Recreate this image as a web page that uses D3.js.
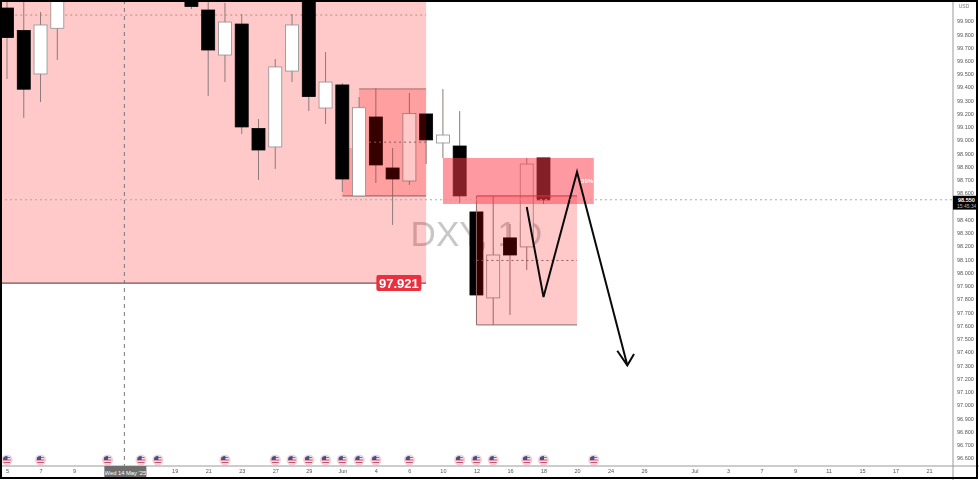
<!DOCTYPE html>
<html><head><meta charset="utf-8">
<script src="https://cdn.jsdelivr.net/npm/d3@7"></script>
<style>html,body{margin:0;padding:0;background:#fff;overflow:hidden}svg{display:block;filter:blur(.45px)}text{font-family:"Liberation Sans",Arial,sans-serif}</style>
</head><body><div id="c"></div>
<script>
const barIndex=[0,1,2,3,11,12,13,14,15,16,17,18,19,20,21,22,23,24,25,26,27,28,29,30,31,32];
const opens =[99.998,99.828,99.500,99.845,100.10,99.983,99.643,99.877,99.088,98.949,99.522,100.20,99.243,99.417,98.579,99.175,98.790,98.692,99.198,98.979,98.956,98.458,97.809,98.262,98.194,98.866];
const closes=[99.775,99.385,99.870,100.10,100.01,99.681,99.892,99.100,98.926,99.553,99.870,99.330,99.439,98.707,99.245,98.813,98.707,99.202,99.002,99.039,98.579,97.831,98.133,98.133,98.820,98.549];
const highs =[100.20,100.20,99.968,100.20,100.15,100.10,100.036,99.953,99.160,99.613,99.953,100.30,99.666,99.430,99.326,99.394,98.941,99.356,99.198,99.387,99.220,98.470,98.579,98.367,98.866,98.866];
const lows  =[99.462,99.168,99.288,99.606,99.990,99.334,99.439,99.047,98.700,98.783,99.439,99.220,99.122,98.609,98.579,98.677,98.360,98.662,98.820,98.866,98.526,97.820,97.605,97.680,98.020,98.518];
const priceTicks=[99.9,99.8,99.7,99.6,99.5,99.4,99.3,99.2,99.1,99.0,98.9,98.8,98.7,98.6,98.4,98.3,98.2,98.1,98.0,97.9,97.8,97.7,97.6,97.5,97.4,97.3,97.2,97.1,97.0,96.9,96.8,96.7,96.6];
const dateTickIndex=[0,2,4,10,12,14,16,18,20,22,24,26,28,30,32,34,36,38,41,43,45,47,49,51,53,55];
const dateTickLabels=["5","7","9","19","21","23","27","29","Jun","4","6","10","12","16","18","20","24","26","Jul","3","7","9","11","15","17","21"];
const eventIndex=[0,2,6,8,9,13,16,17,18,19,20,21,22,24,27,28,29,31,32,35];
const crosshairIndex=7, crosshairPrice=98.55;
const baseZone={start:-1,end:25,top:101,bottom:97.921,mid:99.945};
const innerZone={start:21,end:25,top:99.387,bottom:98.579,mid:98.985};
const innerZoneLeft={start:20,end:21,top:98.941,bottom:98.579};
const redZone={start:26,end:35,top:98.866,bottom:98.518};
const lowerZone={start:28,end:34,top:98.579,bottom:97.605,mid:98.092};
const pathBar=[31,32,34,37];
const pathPrice=[98.495,97.816,98.760,97.300];
const headBar=[36.4,37,37.4];
const headPrice=[97.410,97.300,97.385];
const frontBars=[20,21];
const levelLabel="97.921", priceLabel="98.550", timeLabel="15:45:34", dateLabel="Wed 14 May '25", watermark="DXY, 1D", unitLabel="USD";

const W=979,H=480,axisX=953,axisY=466;
const svg=d3.select("#c").append("svg").attr("width",W).attr("height",H);
const x=d3.scaleLinear().domain([0,32]).range([7,543.5]);
const y=d3.scaleLinear().domain([96.6,99.9]).range([458,21]);
const defs=svg.append("defs");
defs.append("clipPath").attr("id","plot").append("rect").attr("width",axisX).attr("height",axisY);
defs.append("clipPath").attr("id","flag").append("circle").attr("r",4);
const g=svg.append("g").attr("clip-path","url(#plot)");

g.append("text").attr("x",x(28)).attr("y",y(98.2)).attr("text-anchor","middle").attr("font-size",35).attr("fill","#c9c6c6").text(watermark);

function zone(z,fill){
  g.append("rect").attr("x",x(z.start)).attr("width",x(z.end)-x(z.start)).attr("y",y(z.top)).attr("height",y(z.bottom)-y(z.top)).attr("fill",fill);
}
function hline(z,p,stroke,dash,w){
  const l=g.append("line").attr("x1",x(z.start)).attr("x2",x(z.end)).attr("y1",y(p)).attr("y2",y(p)).attr("stroke",stroke).attr("stroke-width",w||1);
  if(dash) l.attr("stroke-dasharray",dash);
}
const PINK="rgba(255,0,0,.21)";
zone(baseZone,PINK);
hline(baseZone,baseZone.bottom,"#7a5050",null,1.2);
hline(baseZone,baseZone.mid,"#c08484","2 3");

const candles=barIndex.map((b,i)=>({b,o:opens[i],c:closes[i],h:highs[i],l:lows[i]}));
function draw(list){
  const s=g.append("g").selectAll("g").data(list).join("g");
  s.append("line").attr("x1",d=>x(d.b)).attr("x2",d=>x(d.b)).attr("y1",d=>y(d.h)).attr("y2",d=>y(d.l)).attr("stroke","#8c7a7a").attr("stroke-width",1);
  s.append("rect").attr("x",d=>x(d.b)-6.5).attr("width",13)
    .attr("y",d=>y(Math.max(d.o,d.c))).attr("height",d=>Math.abs(y(d.o)-y(d.c)))
    .attr("fill",d=>d.c<d.o?"#000":"#fff").attr("stroke",d=>d.c<d.o?"#000":"#8f8f8f").attr("stroke-width",.8);
}
draw(candles.filter(d=>!frontBars.includes(d.b)));
zone(innerZone,PINK);
zone(innerZoneLeft,PINK);
hline(innerZone,innerZone.top,"#a86a6a",null,1);
hline({start:20,end:25},innerZone.bottom,"#8a5a5a",null,1);
hline(innerZone,innerZone.mid,"#8a5a5a","2 3");
draw(candles.filter(d=>frontBars.includes(d.b)));

zone(lowerZone,PINK);
hline(lowerZone,lowerZone.top,"#8a3a3a",null,1);
hline(lowerZone,lowerZone.bottom,"#8a6a6a",null,1);
hline(lowerZone,lowerZone.mid,"#8a5a5a","2 3");
g.append("line").attr("x1",x(28)).attr("x2",x(28)).attr("y1",y(lowerZone.top)).attr("y2",y(lowerZone.bottom)).attr("stroke","#8a6a6a");
zone(redZone,"rgba(255,60,75,.52)");
g.append("text").attr("x",x(34.6)).attr("y",y(98.69)+2).attr("text-anchor","middle").attr("font-size",6).attr("font-weight","bold").attr("fill","#fff").text("50%");

const lineGen=d3.line().x(d=>x(d[0])).y(d=>y(d[1]));
const black={fill:"none",stroke:"#0a0a0a","stroke-width":2,"stroke-linejoin":"miter"};
[d3.zip(pathBar,pathPrice),d3.zip(headBar,headPrice)].forEach(pts=>{
  const p=g.append("path").attr("d",lineGen(pts));
  Object.entries(black).forEach(([k,v])=>p.attr(k,v));
});

g.append("line").attr("x1",x(crosshairIndex)).attr("x2",x(crosshairIndex)).attr("y1",0).attr("y2",axisY).attr("stroke","#777").attr("stroke-dasharray","4 4");
g.append("line").attr("x1",0).attr("x2",axisX).attr("y1",y(crosshairPrice)).attr("y2",y(crosshairPrice)).attr("stroke","#aaa").attr("stroke-dasharray","2 3");

const lab=g.append("g").attr("transform",`translate(${x(24)-33},${y(baseZone.bottom)})`);
lab.append("rect").attr("y",-8).attr("width",45).attr("height",16).attr("rx",2).attr("fill","#e8303f");
lab.append("text").attr("x",22.5).attr("y",4.5).attr("text-anchor","middle").attr("font-size",13).attr("font-weight","bold").attr("fill","#fff").text(levelLabel);

const ev=g.append("g").selectAll("g").data(eventIndex).join("g").attr("transform",d=>`translate(${x(d)},460)`);
ev.append("circle").attr("r",5.6).attr("fill","#f6cfd6");
const fl=ev.append("g").attr("clip-path","url(#flag)");
fl.append("rect").attr("x",-4).attr("y",-4).attr("width",8).attr("height",8).attr("fill","#e9e4ee");
[-2.5,0,2.5].forEach(v=>fl.append("rect").attr("x",-4).attr("y",v-.5).attr("width",8).attr("height",1).attr("fill","#c8506a"));
fl.append("rect").attr("x",-4).attr("y",-4).attr("width",4.5).attr("height",4).attr("fill","#4a4f86");

svg.append("rect").attr("x",axisX).attr("width",W-axisX).attr("height",H).attr("fill","#fff");
svg.append("rect").attr("y",axisY).attr("width",W).attr("height",H-axisY).attr("fill","#fff");

const yAxis=svg.append("g").attr("transform",`translate(${axisX},0)`).call(d3.axisRight(y).tickValues(priceTicks).tickSize(0).tickPadding(4).tickFormat(d3.format(".3f")));
yAxis.select(".domain").remove();
yAxis.selectAll("text").attr("font-size",5.5).attr("fill","#555").style("font-family",'"Liberation Sans",Arial,sans-serif');
const xs=d=>dateTickLabels[dateTickIndex.indexOf(d)];
const xAxis=svg.append("g").attr("transform",`translate(0,${axisY})`).call(d3.axisBottom(x).tickValues(dateTickIndex).tickSize(0).tickPadding(3).tickFormat(xs));
xAxis.select(".domain").remove();
xAxis.selectAll("text").attr("font-size",5.5).attr("fill","#555").style("font-family",'"Liberation Sans",Arial,sans-serif');

svg.append("text").attr("x",axisX+11).attr("y",8).attr("text-anchor","middle").attr("font-size",5).attr("fill","#777").text(unitLabel);
svg.append("line").attr("x1",axisX).attr("x2",axisX).attr("y1",0).attr("y2",H).attr("stroke","#9a9a9a").attr("stroke-width",1);
svg.append("line").attr("x1",0).attr("x2",W).attr("y1",axisY).attr("y2",axisY).attr("stroke","#9a9a9a").attr("stroke-width",1);

const pl=svg.append("g").attr("transform",`translate(${axisX},${y(crosshairPrice)-4})`);
pl.append("rect").attr("width",24).attr("height",14).attr("fill","#000");
pl.append("text").attr("x",5).attr("y",6).attr("font-size",5.5).attr("font-weight","bold").attr("fill","#fff").text(priceLabel);
pl.append("text").attr("x",4).attr("y",12).attr("font-size",5).attr("fill","#bbb").text(timeLabel);

const dl=svg.append("g").attr("transform",`translate(${x(crosshairIndex)-20},${axisY})`);
dl.append("rect").attr("width",42).attr("height",12).attr("fill","#6e6e6e");
dl.append("text").attr("x",21).attr("y",8.5).attr("text-anchor","middle").attr("font-size",5.8).attr("fill","#fff").text(dateLabel);

svg.append("rect").attr("x",1).attr("y",1).attr("width",976).attr("height",477).attr("fill","none").attr("stroke","#000").attr("stroke-width",2);
</script></body></html>
